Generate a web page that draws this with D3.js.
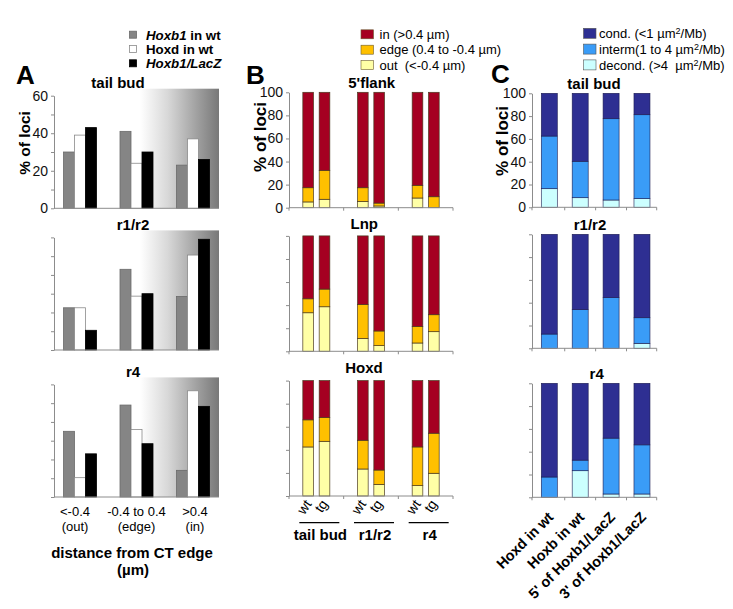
<!DOCTYPE html>
<html><head><meta charset="utf-8">
<script src="https://cdn.jsdelivr.net/npm/d3@7"></script>
<style>
body{margin:0;background:#fff}
svg{display:block;font-family:'Liberation Sans',Arial,Helvetica,sans-serif}
</style></head>
<body><svg id="chart" width="733" height="609"></svg>
<script>
// ---------------- DATA ----------------
// Panel A: % of loci by distance from CT edge
const aPanels = ["tail bud", "r1/r2", "r4"];
const aGroups = ["<-0.4", "-0.4 to 0.4", ">0.4"];
const aGroupSub = ["(out)", "(edge)", "(in)"];
const aSeries = ["hoxb1", "hoxd", "lacz"];
const aHoxb1 = [[30, 41, 23], [22.5, 43, 28.5], [35, 49, 14.2]];
const aHoxd  = [[39, 24, 37], [22.5, 28.7, 50.6], [10.3, 36, 56.6]];
const aLacZ  = [[43, 30, 26], [10.5, 30, 59], [23, 28.4, 48.3]];
const aTicks = [0, 10, 20, 30, 40, 50, 60];
const aTickLabels = [0, 20, 40, 60];

// Panel B: stacked % of loci (out / edge / in)
const bPanels = ["5'flank", "Lnp", "Hoxd"];
const bGroups = ["tail bud", "r1/r2", "r4"];
const bGenotypes = ["wt", "tg"];
const bOut  = [[5, 7.3, 5.5, 1.5, 8.4, 0], [33.4, 38.6, 11.2, 4.9, 7.2, 17], [42.5, 47.4, 23.4, 10.1, 9, 19.7]];
const bEdge = [[12.3, 25.1, 11.8, 2.5, 11, 9.5], [12.1, 15.3, 29.4, 12.7, 14.4, 14.7], [23.5, 20.6, 24.9, 12.4, 33.5, 34.7]];
const bIn   = [[82.7, 67.6, 82.7, 96, 80.6, 90.5], [54.5, 46.1, 59.4, 82.4, 78.4, 68.3], [34, 32, 51.7, 77.5, 57.5, 45.6]];
const pctTicks = [0, 20, 40, 60, 80, 100];

// Panel C: stacked % of loci (decond / interm / cond)
const cPanels = ["tail bud", "r1/r2", "r4"];
const cCategories = ["Hoxd in wt", "Hoxb in wt", "5' of Hoxb1/LacZ", "3' of Hoxb1/LacZ"];
const cDecond = [[16.3, 8.4, 6.4, 7.6], [0, 0, 0, 4.4], [0, 23.3, 2.9, 2.9]];
const cInterm = [[46.2, 32, 71.3, 73.6], [12.5, 33.9, 44.4, 22.4], [17.8, 9.3, 49, 43.1]];
const cCond   = [[37.5, 59.6, 22.3, 18.8], [87.5, 66.1, 55.6, 73.2], [82.2, 67.4, 48.1, 54]];

// ---------------- DRAW ----------------
const svg = d3.select("#chart");
svg.append("rect").attr("width", 733).attr("height", 609).attr("fill", "#fff");
const defs = svg.append("defs");
const grad = defs.append("linearGradient").attr("id", "ctGrad").attr("x1", 0).attr("x2", 1).attr("y1", 0).attr("y2", 0);
[[0, "#ffffff"], [0.35, "#d8d8d8"], [0.75, "#9c9c9c"], [1, "#787878"]].forEach(s =>
  grad.append("stop").attr("offset", s[0]).attr("stop-color", s[1]));

const axisColor = "#8c8c8c";
function styleAxis(g) {
  g.select(".domain").attr("stroke", axisColor);
  g.selectAll(".tick line").attr("stroke", axisColor);
  g.selectAll(".tick text").attr("fill", "#111").style("font-size", "14px");
}

// ===== Panel A =====
const aX0 = 54, aX1 = 219;
const aZero = [208.3, 350, 497];
const aH = 112.6;
const aTitleX = [118, 133, 133];
const ax = d3.scaleBand().domain(aGroups).range([aX0, aX1]).paddingInner(0.416).paddingOuter(0.168);
const axIn = d3.scaleBand().domain(aSeries).range([0, ax.bandwidth()]);
const aColors = {hoxb1: "#858585", hoxd: "#ffffff", lacz: "#000000"};
const aStroke = {hoxb1: "#6a6a6a", hoxd: "#8a8a8a", lacz: "#000000"};
const aData = [aHoxb1, aHoxd, aLacZ];

aPanels.forEach((p, pi) => {
  const y = d3.scaleLinear().domain([0, 60]).range([aZero[pi], aZero[pi] - aH]);
  const g = svg.append("g");
  g.append("rect").attr("x", 140).attr("width", aX1 - 140)
    .attr("y", y(60) - 7).attr("height", aZero[pi] - y(60) + 7)
    .attr("fill", "url(#ctGrad)");
  aSeries.forEach((s, si) => {
    g.selectAll(null).data(aGroups).join("rect")
      .attr("x", d => ax(d) + axIn(s))
      .attr("width", axIn.bandwidth())
      .attr("y", (d, i) => y(aData[si][pi][i]))
      .attr("height", (d, i) => y(0) - y(aData[si][pi][i]))
      .attr("fill", aColors[s]).attr("stroke", aStroke[s]).attr("stroke-width", 0.8);
  });
  const ya = g.append("g").attr("transform", `translate(${aX0},0)`)
    .call(d3.axisLeft(y).tickValues(aTicks).tickSize(3).tickSizeOuter(0)
      .tickFormat(d => (pi === 0 && aTickLabels.includes(d)) ? d : ""));
  styleAxis(ya);
  g.append("line").attr("x1", aX0).attr("x2", aX1).attr("y1", y(0)).attr("y2", y(0)).attr("stroke", axisColor);
  g.append("text").attr("x", aTitleX[pi]).attr("y", y(60) - 7.5).attr("text-anchor", "middle")
    .attr("font-weight", "bold").style("font-size", "15px").text(p);
});
aGroups.forEach((gname, i) => {
  const cx = ax(gname) + ax.bandwidth() / 2 - (i === 0 ? 5 : i === 2 ? -2 : 0);
  svg.append("text").attr("x", cx).attr("y", 516).attr("text-anchor", "middle").style("font-size", "13px").text(gname);
  svg.append("text").attr("x", cx).attr("y", 531).attr("text-anchor", "middle").style("font-size", "13px").text(aGroupSub[i]);
});
svg.append("text").attr("x", 132).attr("y", 558).attr("text-anchor", "middle").attr("font-weight", "bold").style("font-size", "15px").text("distance from CT edge");
svg.append("text").attr("x", 133).attr("y", 575).attr("text-anchor", "middle").attr("font-weight", "bold").style("font-size", "15px").text("(\u00b5m)");
svg.append("text").attr("transform", "translate(30,143) rotate(-90)").attr("text-anchor", "middle")
  .attr("font-weight", "bold").style("font-size", "15.5px").text("% of loci");
svg.append("text").attr("x", 16).attr("y", 84).attr("font-weight", "bold").style("font-size", "26px").text("A");
const aLeg = [
  {parts: [["Hoxb1", true], [" in wt", false]], key: "hoxb1"},
  {parts: [["Hoxd in wt", false]], key: "hoxd"},
  {parts: [["Hoxb1/LacZ", true]], key: "lacz"}];
aLeg.forEach((l, i) => {
  const cy = 34.7 + i * 14.3;
  svg.append("rect").attr("x", 129.5).attr("y", cy - 3.5).attr("width", 7).attr("height", 7)
    .attr("fill", aColors[l.key]).attr("stroke", aStroke[l.key]).attr("stroke-width", 0.8);
  const t = svg.append("text").attr("x", 146).attr("y", cy + 4.8).attr("font-weight", "bold").style("font-size", "13.3px");
  l.parts.forEach(pt => t.append("tspan").attr("font-style", pt[1] ? "italic" : "normal").text(pt[0]));
});

// ===== Panel B =====
const bX0 = 289, bX1 = 453;
const bZero = [207.7, 351.3, 496];
const bH = 115.4;
const bTitleX = [371.7, 364.3, 364];
const bTitleDy = [4.5, 6.5, 7.5];
const bxG = d3.scalePoint().domain(bGroups).range([bX0, bX1]).padding(0.5);
const bxIn = d3.scaleBand().domain(bGenotypes).range([-13.5, 13.5]).paddingInner(0.348);
const bKeys = ["out", "edge", "in"];
const bColors = {in: "#a50021", edge: "#ffc000", out: "#ffffa6"};
const bBars = [];
bGroups.forEach(gname => bGenotypes.forEach(gt => bBars.push({group: gname, gt})));
const barX = d => bxG(d.group) + bxIn(d.gt);

bPanels.forEach((p, pi) => {
  const y = d3.scaleLinear().domain([0, 100]).range([bZero[pi], bZero[pi] - bH]);
  const rows = bBars.map((b, i) => ({...b, out: bOut[pi][i], edge: bEdge[pi][i], in: bIn[pi][i]}));
  const stacked = d3.stack().keys(bKeys)(rows);
  const g = svg.append("g");
  stacked.forEach(layer => {
    g.selectAll(null).data(layer).join("rect")
      .attr("x", d => barX(d.data)).attr("width", bxIn.bandwidth())
      .attr("y", d => y(d[1])).attr("height", d => y(d[0]) - y(d[1]))
      .attr("fill", bColors[layer.key]).attr("stroke", "#4a3a20").attr("stroke-width", 0.7);
  });
  const ya = g.append("g").attr("transform", `translate(${bX0},0)`)
    .call(d3.axisLeft(y).tickValues(pctTicks).tickSize(3).tickSizeOuter(0).tickFormat(d => pi === 0 ? d : ""));
  styleAxis(ya);
  g.append("line").attr("x1", bX0).attr("x2", bX1).attr("y1", y(0)).attr("y2", y(0)).attr("stroke", axisColor);
  const step = bxG.step();
  [bX0, bxG(bGroups[0]) + step / 2, bxG(bGroups[1]) + step / 2, bX1].forEach(tx =>
    g.append("line").attr("x1", tx).attr("x2", tx).attr("y1", y(0)).attr("y2", y(0) + 3).attr("stroke", axisColor));
  g.append("text").attr("x", bTitleX[pi]).attr("y", y(100) - bTitleDy[pi]).attr("text-anchor", "middle")
    .attr("font-weight", "bold").style("font-size", "15px").text(p);
});
bBars.forEach(b => {
  const cx = barX(b) + bxIn.bandwidth() / 2;
  svg.append("text").attr("transform", `translate(${cx + 4},504) rotate(-55)`).attr("text-anchor", "end")
    .style("font-size", "14px").text(b.gt);
});
bGroups.forEach(gname => {
  const cx = bxG(gname) + 3;
  svg.append("line").attr("x1", cx - 20).attr("x2", cx + 20).attr("y1", 522.7).attr("y2", 522.7).attr("stroke", "#000").attr("stroke-width", 1.2);
  svg.append("text").attr("x", cx + 1).attr("y", 540).attr("text-anchor", "middle").attr("font-weight", "bold").style("font-size", "15px").text(gname);
});
svg.append("text").attr("transform", "translate(266,137) rotate(-90)").attr("text-anchor", "middle")
  .attr("font-weight", "bold").style("font-size", "17px").text("% of loci");
svg.append("text").attr("x", 246).attr("y", 84).attr("font-weight", "bold").style("font-size", "26px").text("B");
const bLeg = [["in", "in (>0.4 \u00b5m)"], ["edge", "edge (0.4 to -0.4 \u00b5m)"], ["out", "out  (<-0.4 \u00b5m)"]];
bLeg.forEach((l, i) => {
  const cy = 34.3 + i * 15.4;
  svg.append("rect").attr("x", 361).attr("y", cy - 4.5).attr("width", 12.5).attr("height", 9)
    .attr("fill", bColors[l[0]]).attr("stroke", "#6b5a30").attr("stroke-width", 0.6);
  svg.append("text").attr("x", 379.5).attr("y", cy + 4.7).style("font-size", "13px").style("white-space", "pre")
    .attr("xml:space", "preserve").text(l[1]);
});

// ===== Panel C =====
const cX0 = 532, cX1 = 656.7;
const cZero = [207.3, 348.3, 497.3];
const cH = 114;
const cTitleX = [594, 590, 596.7];
const cx = d3.scaleBand().domain(cCategories).range([cX0, cX1]).paddingInner(0.482).paddingOuter(0.259).align(0.58);
const cKeys = ["decond", "interm", "cond"];
const cColors = {cond: "#2e2f92", interm: "#3a9cf7", decond: "#ccffff"};
cPanels.forEach((p, pi) => {
  const y = d3.scaleLinear().domain([0, 100]).range([cZero[pi], cZero[pi] - cH]);
  const rows = cCategories.map((c, i) => ({cat: c, decond: cDecond[pi][i], interm: cInterm[pi][i], cond: cCond[pi][i]}));
  const stacked = d3.stack().keys(cKeys)(rows);
  const g = svg.append("g");
  stacked.forEach(layer => {
    g.selectAll(null).data(layer.filter(d => d[1] > d[0])).join("rect")
      .attr("x", d => cx(d.data.cat)).attr("width", cx.bandwidth())
      .attr("y", d => y(d[1])).attr("height", d => y(d[0]) - y(d[1]))
      .attr("fill", cColors[layer.key]).attr("stroke", "#1c1c50").attr("stroke-width", 0.6);
  });
  const ya = g.append("g").attr("transform", `translate(${cX0},0)`)
    .call(d3.axisLeft(y).tickValues(pctTicks).tickSize(3).tickSizeOuter(0).tickFormat(d => pi === 0 ? d : ""));
  styleAxis(ya);
  g.append("line").attr("x1", cX0).attr("x2", cX1).attr("y1", y(0)).attr("y2", y(0)).attr("stroke", axisColor);
  const st = cx.step();
  cCategories.slice(0, 3).forEach(c => {
    const tx = cx(c) + cx.bandwidth() / 2 + st / 2;
    g.append("line").attr("x1", tx).attr("x2", tx).attr("y1", y(0)).attr("y2", y(0) + 3).attr("stroke", axisColor);
  });
  [cX0, cX1].forEach(tx => g.append("line").attr("x1", tx).attr("x2", tx).attr("y1", y(0)).attr("y2", y(0) + 3).attr("stroke", axisColor));
  g.append("text").attr("x", cTitleX[pi]).attr("y", y(100) - 4.5).attr("text-anchor", "middle")
    .attr("font-weight", "bold").style("font-size", "15px").text(p);
});
cCategories.forEach(c => {
  const x = cx(c) + cx.bandwidth() / 2;
  svg.append("text").attr("transform", `translate(${x + 5},518) rotate(-45)`).attr("text-anchor", "end")
    .attr("font-weight", "bold").style("font-size", "14.5px").text(c);
});
svg.append("text").attr("transform", "translate(508,141) rotate(-90)").attr("text-anchor", "middle")
  .attr("font-weight", "bold").style("font-size", "17px").text("% of loci");
svg.append("text").attr("x", 491).attr("y", 83).attr("font-weight", "bold").style("font-size", "26px").text("C");
const cLeg = [["cond", "cond. (<1 \u00b5m", "/Mb)"], ["interm", "interm(1 to 4 \u00b5m", "/Mb)"], ["decond", "decond. (>4  \u00b5m", "/Mb)"]];
cLeg.forEach((l, i) => {
  const cy = 33.3 + i * 15.8;
  svg.append("rect").attr("x", 583.5).attr("y", cy - 5).attr("width", 12.5).attr("height", 10)
    .attr("fill", cColors[l[0]]).attr("stroke", "#555").attr("stroke-width", 0.6);
  const t = svg.append("text").attr("x", 599).attr("y", cy + 4.7).style("font-size", "13px").attr("xml:space", "preserve");
  t.append("tspan").text(l[1]);
  t.append("tspan").attr("dy", -4).style("font-size", "9px").text("2");
  t.append("tspan").attr("dy", 4).text(l[2]);
});
</script></body></html>
